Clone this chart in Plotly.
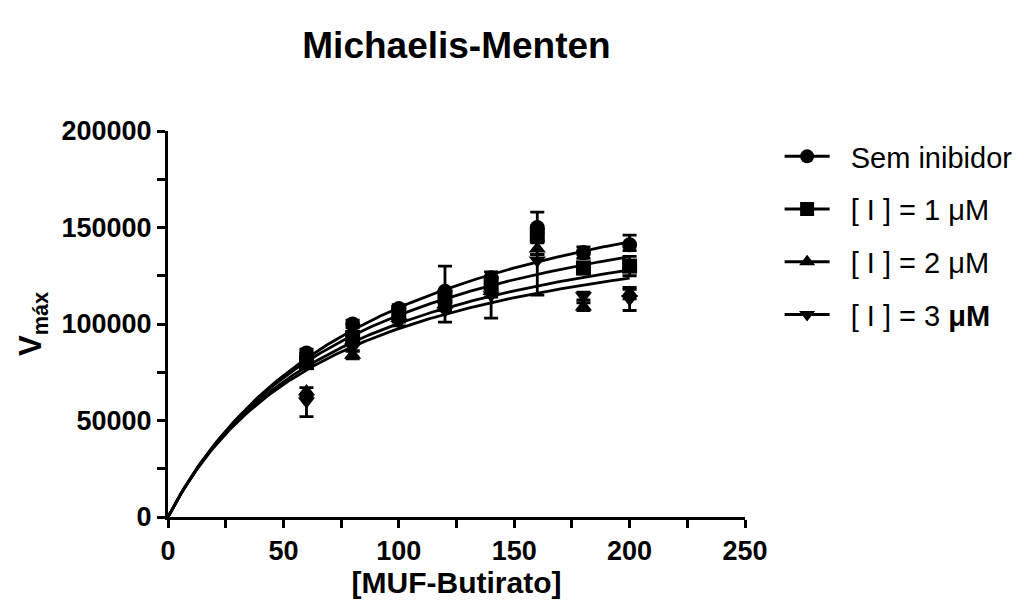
import numpy as np
import plotly.graph_objects as go

# Substrate concentrations
substrate = [60, 80, 100, 120, 140, 160, 180, 200]

series_names = ["Sem inibidor", "[ I ] = 1 μM", "[ I ] = 2 μM", "[ I ] = 3 <b>μM</b>"]
series_symbols = ["circle", "square", "triangle-up", "triangle-down"]

v_sem = [85000, 100000, 108000, 117000, 124000, 150000, 137000, 141000]
v_1uM = [80000, 93000, 106000, 114000, 121000, 146000, 129000, 130000]
v_2uM = [65000, 84000, 103000, 110000, 117000, 139000, 109000, 116000]
v_3uM = [60000, 88000, 101000, 107000, 115000, 133000, 114500, 113000]

# Error bars (upper / lower)
e_sem_up = [2000, 2000, 2000, 13000, 3000, 8000, 3000, 5000]
e_sem_dn = [2000, 2000, 2000, 3000, 3000, 3000, 3000, 3000]
e_1uM_up = [2000, 3000, 2000, 3000, 3000, 3000, 3000, 5000]
e_1uM_dn = [2000, 3000, 2000, 3000, 3000, 3000, 3000, 5000]
e_2uM_up = [2000, 2000, 2000, 3000, 3000, 3000, 2000, 3000]
e_2uM_dn = [2000, 2000, 2000, 3000, 3000, 3000, 2000, 3000]
e_3uM_up = [2000, 2000, 2000, 3000, 3000, 3000, 2000, 5000]
e_3uM_dn = [8000, 2000, 2000, 6000, 12000, 18000, 2000, 6000]

# Fitted Michaelis-Menten parameters for each curve
vmax_fit = [208200, 189900, 176700, 169100]
km_fit = [92.0, 81.6, 76.1, 73.2]

values = [v_sem, v_1uM, v_2uM, v_3uM]
err_up = [e_sem_up, e_1uM_up, e_2uM_up, e_3uM_up]
err_dn = [e_sem_dn, e_1uM_dn, e_2uM_dn, e_3uM_dn]

FONT = "Arial, Liberation Sans, sans-serif"
fig = go.Figure()

s_curve = np.linspace(0, 200, 201)
for i in range(4):
    fig.add_trace(go.Scatter(
        x=s_curve, y=vmax_fit[i] * s_curve / (km_fit[i] + s_curve),
        mode="lines", line=dict(color="black", width=2.8),
        showlegend=False, hoverinfo="skip"))

for i in range(4):
    fig.add_trace(go.Scatter(
        x=substrate, y=values[i], mode="markers",
        marker=dict(symbol=series_symbols[i], size=15, color="black"),
        error_y=dict(type="data", array=err_up[i], arrayminus=err_dn[i],
                     color="black", thickness=2.8, width=7),
        showlegend=False, cliponaxis=False))

for i in range(4):
    fig.add_trace(go.Scatter(
        x=[None], y=[None], mode="lines+markers",
        name="&nbsp;&nbsp;" + series_names[i],
        line=dict(color="black", width=3),
        marker=dict(symbol=series_symbols[i], size=14, color="black"),
        legendgroup=f"g{i}"))

axis_common = dict(
    showline=True, linecolor="black", linewidth=3,
    ticks="outside", ticklen=8, tickwidth=3, tickcolor="black",
    showgrid=False, zeroline=False,
    tickfont=dict(family=FONT, size=27, color="black", weight="bold"),
)

fig.update_layout(
    width=1032, height=607,
    paper_bgcolor="white", plot_bgcolor="white",
    margin=dict(l=168, r=287, t=131, b=90),
    title=dict(text="<b>Michaelis-Menten</b>", x=0.5, xref="paper",
               y=1 - 45 / 607, yref="container", yanchor="middle",
               font=dict(family=FONT, size=37, color="black")),
    xaxis=dict(range=[0, 250], tickvals=[0, 50, 100, 150, 200, 250],
               minor=dict(ticks="outside", ticklen=8, tickwidth=3, tickcolor="black",
                          tickvals=[25, 75, 125, 175, 225]),
               title=dict(text="<b>[MUF-Butirato]</b>", standoff=3,
                          font=dict(family=FONT, size=30, color="black")),
               **axis_common),
    yaxis=dict(range=[0, 200000], tickvals=[0, 50000, 100000, 150000, 200000],
               tickformat="d",
               minor=dict(ticks="outside", ticklen=8, tickwidth=3, tickcolor="black",
                          tickvals=[25000, 75000, 125000, 175000]),
               title=dict(text="<b>V<sub>máx</sub></b>", standoff=11,
                          font=dict(family=FONT, size=31, color="black")),
               **axis_common),
    legend=dict(x=1.06, y=1.0, xanchor="left", yanchor="top",
                font=dict(family=FONT, size=29, color="black"),
                tracegroupgap=12, itemwidth=45, bgcolor="rgba(0,0,0,0)"),
)

fig.write_html("out.html")
